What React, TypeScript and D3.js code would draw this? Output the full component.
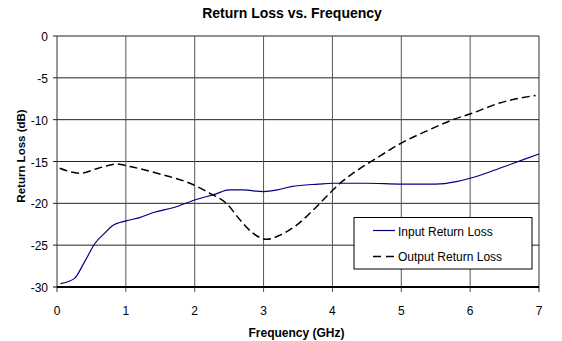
import React from "react";
import * as d3 from "d3";

const inputFreq = [0.05, 0.25, 0.4, 0.55, 0.7, 0.8, 1.0, 1.2, 1.4, 1.7, 2.0, 2.3, 2.5, 2.7, 3.0, 3.2, 3.4, 3.8, 4.0, 4.5, 5.0, 5.5, 5.8, 6.0, 6.3, 6.6, 7.0];
const inputLoss = [-29.6, -29.0, -27.0, -24.8, -23.5, -22.7, -22.1, -21.7, -21.1, -20.5, -19.6, -18.9, -18.4, -18.4, -18.6, -18.4, -18.0, -17.7, -17.6, -17.6, -17.7, -17.7, -17.4, -17.0, -16.2, -15.3, -14.1];

const outputFreq = [0.04, 0.33, 0.6, 0.87, 1.06, 1.54, 1.93, 2.22, 2.46, 2.66, 2.85, 3.05, 3.24, 3.48, 3.72, 3.96, 4.11, 4.3, 4.64, 5.0, 5.41, 5.75, 6.04, 6.43, 6.95];
const outputLoss = [-15.8, -16.4, -15.8, -15.3, -15.6, -16.6, -17.6, -18.8, -20.0, -22.0, -23.6, -24.3, -23.8, -22.6, -20.8, -18.8, -17.6, -16.4, -14.6, -12.8, -11.2, -10.0, -9.2, -8.0, -7.1];

const xTicks = [0, 1, 2, 3, 4, 5, 6, 7];
const yTicks = [0, -5, -10, -15, -20, -25, -30];
const seriesNames = ["Input Return Loss", "Output Return Loss"];

export default function App() {
  const W = 562, H = 341;
  const left = 57, right = 539, top = 36, bottom = 287;
  const x = d3.scaleLinear().domain([0, 7]).range([left, right]);
  const y = d3.scaleLinear().domain([-30, 0]).range([bottom, top]);
  const line = d3.line<[number, number]>().x(d => x(d[0])).y(d => y(d[1])).curve(d3.curveMonotoneX);
  const inPts = inputFreq.map((f, i) => [f, inputLoss[i]] as [number, number]);
  const outPts = outputFreq.map((f, i) => [f, outputLoss[i]] as [number, number]);
  const font = "'Liberation Sans', Arial, sans-serif";

  return (
    <svg width={W} height={H} style={{ position: "absolute", left: 0, top: 0 }} fontFamily={font}>
      <rect x={0} y={0} width={W} height={H} fill="#fff" />
      <text x={292} y={17.5} textAnchor="middle" fontSize={14} fontWeight="bold">Return Loss vs. Frequency</text>
      {yTicks.filter(t => t !== -30).map(t => (
        <line key={"h" + t} x1={left - 4} x2={right} y1={y(t)} y2={y(t)} stroke="#222" strokeWidth={1} />
      ))}
      {xTicks.map(t => (
        <line key={"v" + t} x1={x(t)} x2={x(t)} y1={top} y2={bottom + 5} stroke={t === 0 || t === 7 ? "#333" : "#555"} strokeWidth={1} />
      ))}
      <line x1={left - 4} x2={left} y1={bottom} y2={bottom} stroke="#000" />
      <line x1={left} x2={right} y1={bottom} y2={bottom} stroke="#000" strokeWidth={2.2} />
      {yTicks.map(t => (
        <text key={"yl" + t} x={48} y={y(t) + 5} textAnchor="end" fontSize={12}>{t}</text>
      ))}
      {xTicks.map(t => (
        <text key={"xl" + t} x={x(t)} y={314.5} textAnchor="middle" fontSize={12}>{t}</text>
      ))}
      <text x={296.5} y={337} textAnchor="middle" fontSize={12} fontWeight="bold">Frequency (GHz)</text>
      <text transform={`translate(24.5,156) rotate(-90)`} textAnchor="middle" fontSize={11.5} fontWeight="bold">Return Loss (dB)</text>
      <path d={line(inPts) || ""} fill="none" stroke="#000080" strokeWidth={1.2} />
      <path d={line(outPts) || ""} fill="none" stroke="#000" strokeWidth={1.5} strokeDasharray="8,4" />
      <rect x={354} y={217.5} width={178} height={51.5} fill="#fff" stroke="#000" strokeWidth={1} />
      <line x1={373} x2={395} y1={230.5} y2={230.5} stroke="#000080" strokeWidth={1.2} />
      <line x1={373} x2={395} y1={256.5} y2={256.5} stroke="#000" strokeWidth={1.5} strokeDasharray="8,5" />
      <text x={398} y={236} fontSize={12}>{seriesNames[0]}</text>
      <text x={398} y={261} fontSize={12}>{seriesNames[1]}</text>
    </svg>
  );
}
